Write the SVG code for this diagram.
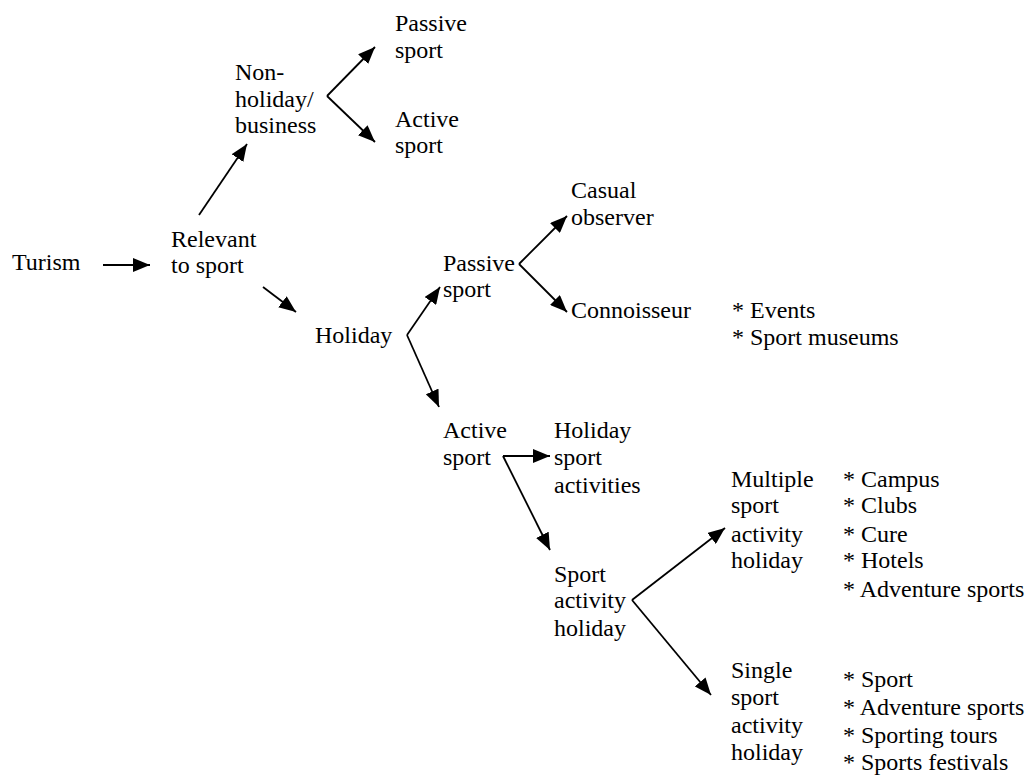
<svg xmlns="http://www.w3.org/2000/svg" width="1029" height="776" viewBox="0 0 1029 776">
<defs>
<marker id="ah" markerUnits="userSpaceOnUse" markerWidth="17" markerHeight="14" refX="17" refY="7" orient="auto">
<path d="M0,0 L17,7 L0,14 z" fill="#000"/>
</marker>
</defs>
<rect width="1029" height="776" fill="#fff"/>
<g id="connectors" stroke="#000" stroke-width="1.8" fill="none" marker-end="url(#ah)">
<line x1="103" y1="265" x2="150" y2="265"/>
<line x1="199" y1="215" x2="247" y2="144"/>
<line x1="263" y1="287" x2="296" y2="312"/>
<line x1="327" y1="96" x2="375" y2="47"/>
<line x1="327" y1="96" x2="375" y2="142"/>
<line x1="407" y1="335" x2="440" y2="287"/>
<line x1="407" y1="335" x2="439" y2="407"/>
<line x1="519" y1="264" x2="567" y2="216"/>
<line x1="519" y1="264" x2="567" y2="312"/>
<line x1="503" y1="456" x2="550" y2="456"/>
<line x1="503" y1="456" x2="550" y2="550"/>
<line x1="632" y1="600" x2="725" y2="528"/>
<line x1="632" y1="600" x2="711" y2="695"/>
</g>
<g id="turism"><text font-family="Liberation Serif" font-size="24" x="12" y="270">Turism</text></g>
<g id="relevant"><text font-family="Liberation Serif" font-size="24" x="171" y="247">Relevant</text><text font-family="Liberation Serif" font-size="24" x="171" y="273">to sport</text></g>
<g id="nonholiday"><text font-family="Liberation Serif" font-size="24" x="235" y="80">Non-</text><text font-family="Liberation Serif" font-size="24" x="235" y="107">holiday/</text><text font-family="Liberation Serif" font-size="24" x="235" y="133">business</text></g>
<g id="passive1"><text font-family="Liberation Serif" font-size="24" x="395" y="31">Passive</text><text font-family="Liberation Serif" font-size="24" x="395" y="58">sport</text></g>
<g id="active1"><text font-family="Liberation Serif" font-size="24" x="395" y="127">Active</text><text font-family="Liberation Serif" font-size="24" x="395" y="153">sport</text></g>
<g id="holiday"><text font-family="Liberation Serif" font-size="24" x="315" y="343">Holiday</text></g>
<g id="passive2"><text font-family="Liberation Serif" font-size="24" x="443" y="271">Passive</text><text font-family="Liberation Serif" font-size="24" x="443" y="297">sport</text></g>
<g id="casual"><text font-family="Liberation Serif" font-size="24" x="571" y="198">Casual</text><text font-family="Liberation Serif" font-size="24" x="571" y="225">observer</text></g>
<g id="connoisseur"><text font-family="Liberation Serif" font-size="24" x="571" y="318">Connoisseur</text></g>
<g id="conn-list"><text font-family="Liberation Serif" font-size="24" x="732" y="318">* Events</text><text font-family="Liberation Serif" font-size="24" x="732" y="345">* Sport museums</text></g>
<g id="active2"><text font-family="Liberation Serif" font-size="24" x="443" y="438">Active</text><text font-family="Liberation Serif" font-size="24" x="443" y="465">sport</text></g>
<g id="holidaysport"><text font-family="Liberation Serif" font-size="24" x="554" y="438">Holiday</text><text font-family="Liberation Serif" font-size="24" x="554" y="465">sport</text><text font-family="Liberation Serif" font-size="24" x="554" y="493">activities</text></g>
<g id="sportactivity"><text font-family="Liberation Serif" font-size="24" x="554" y="582">Sport</text><text font-family="Liberation Serif" font-size="24" x="554" y="608">activity</text><text font-family="Liberation Serif" font-size="24" x="554" y="636">holiday</text></g>
<g id="multiple"><text font-family="Liberation Serif" font-size="24" x="731" y="487">Multiple</text><text font-family="Liberation Serif" font-size="24" x="731" y="513">sport</text><text font-family="Liberation Serif" font-size="24" x="731" y="542">activity</text><text font-family="Liberation Serif" font-size="24" x="731" y="568">holiday</text></g>
<g id="multiple-list"><text font-family="Liberation Serif" font-size="24" x="843" y="487">* Campus</text><text font-family="Liberation Serif" font-size="24" x="843" y="513">* Clubs</text><text font-family="Liberation Serif" font-size="24" x="843" y="542">* Cure</text><text font-family="Liberation Serif" font-size="24" x="843" y="568">* Hotels</text><text font-family="Liberation Serif" font-size="24" x="843" y="597">* Adventure sports</text></g>
<g id="single"><text font-family="Liberation Serif" font-size="24" x="731" y="678">Single</text><text font-family="Liberation Serif" font-size="24" x="731" y="705">sport</text><text font-family="Liberation Serif" font-size="24" x="731" y="733">activity</text><text font-family="Liberation Serif" font-size="24" x="731" y="760">holiday</text></g>
<g id="single-list"><text font-family="Liberation Serif" font-size="24" x="843" y="687">* Sport</text><text font-family="Liberation Serif" font-size="24" x="843" y="715">* Adventure sports</text><text font-family="Liberation Serif" font-size="24" x="843" y="743">* Sporting tours</text><text font-family="Liberation Serif" font-size="24" x="843" y="770">* Sports festivals</text></g>
</svg>
